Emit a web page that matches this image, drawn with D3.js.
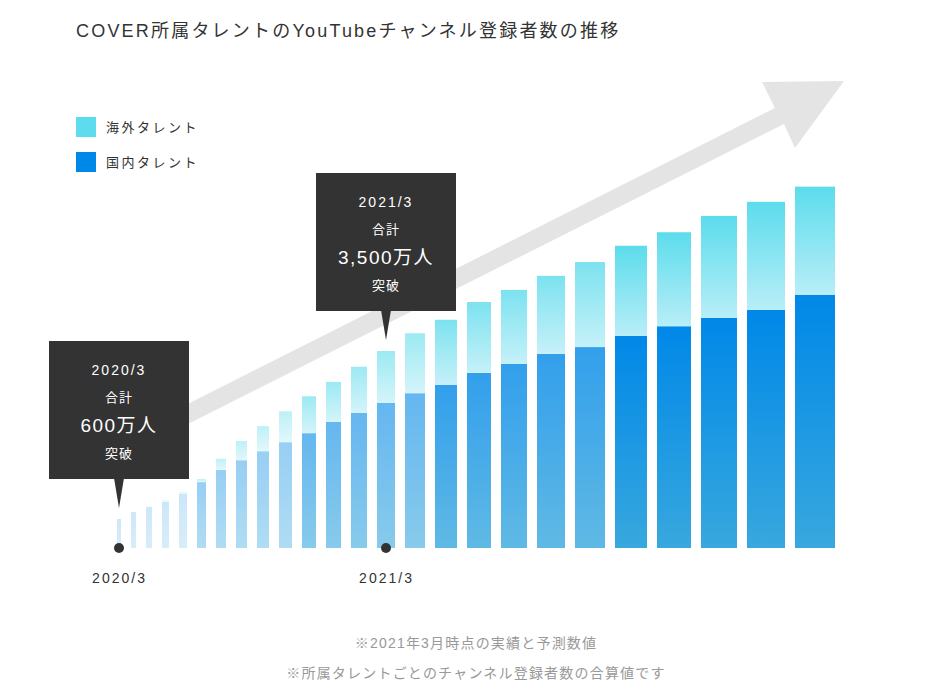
<!DOCTYPE html>
<html lang="ja">
<head>
<meta charset="utf-8">
<script src="https://cdn.jsdelivr.net/npm/d3@7/dist/d3.min.js"></script>
<style>
  html, body { margin: 0; padding: 0; background: #fff; }
  svg { display: block; }
  text { font-family: "Liberation Sans", "Noto Sans CJK JP", sans-serif; }
</style>
</head>
<body>
<svg id="chart" width="925" height="699"></svg>
<script>
// ---- data (万人) ----
const categories = d3.range(1, 26).map(i => "P" + i);
const domestic = [515, 640, 730, 820, 960, 1170, 1390, 1560, 1720, 1880, 2040, 2240, 2400, 2580, 2750, 2900, 3110, 3270, 3450, 3570, 3770, 3940, 4090, 4230, 4500];
const overseas = [0, 0, 0, 35, 35, 55, 195, 340, 445, 550, 655, 710, 820, 920, 1065, 1155, 1260, 1315, 1385, 1510, 1600, 1670, 1810, 1920, 1920];
const tickIndex = [0, 13];
const tickLabels = ["2020/3", "2021/3"];
const seriesNames = ["海外タレント", "国内タレント"];
const callouts = [
  { index: 0, lines: ["2020/3", "合計", "600万人", "突破"] },
  { index: 13, lines: ["2021/3", "合計", "3,500万人", "突破"] }
];
const title = "COVER所属タレントのYouTubeチャンネル登録者数の推移";
const notes = ["※2021年3月時点の実績と予測数値", "※所属タレントごとのチャンネル登録者数の合算値です"];

// ---- layout ----
const svg = d3.select("#chart");
const baseY = 548;
const gap = 10;
const barW = i => i < 13 ? 4 + i : 16 + 2 * (i - 12);
const starts = [];
let acc = 0;
categories.forEach((c, i) => { starts.push(acc); acc += barW(i) + (i < categories.length - 1 ? gap : 0); });
const x = d3.scaleLinear().domain([0, acc]).range([117, 835]);
const y = d3.scaleLinear().domain([0, 7000]).range([baseY, 154]);
const opac = i => [0.2, 0.4, 0.6, 0.8, 1][Math.floor(i / 5)];

// gradients
const defs = svg.append("defs");
const gDom = defs.append("linearGradient").attr("id", "gDom").attr("x1", 0).attr("y1", 0).attr("x2", 0).attr("y2", 1);
gDom.append("stop").attr("offset", 0).attr("stop-color", "#0088e8");
gDom.append("stop").attr("offset", 1).attr("stop-color", "#38a8de");
const gOv = defs.append("linearGradient").attr("id", "gOv").attr("x1", 0).attr("y1", 0).attr("x2", 0).attr("y2", 1);
gOv.append("stop").attr("offset", 0).attr("stop-color", "#5cdcec");
gOv.append("stop").attr("offset", 1).attr("stop-color", "#b8eef8");

// title
svg.append("text").attr("x", 76).attr("y", 37).attr("font-size", 18).attr("letter-spacing", 2.2)
  .attr("fill", "#333").text(title);

// legend
const legColors = ["#5cdcec", "#0088e8"];
seriesNames.forEach((n, k) => {
  const ly = 117 + k * 35;
  svg.append("rect").attr("x", 76).attr("y", ly).attr("width", 20).attr("height", 20).attr("fill", legColors[k]);
  svg.append("text").attr("x", 106).attr("y", ly + 10).attr("dy", "0.35em").attr("font-size", 13)
    .attr("letter-spacing", 2.5).attr("fill", "#333").text(n);
});

// background arrow
svg.append("path")
  .attr("d", "M150,423 L775,108 L762,82 L844,81 L795,148 L784,124 L150,443 Z")
  .attr("fill", "#e4e4e4");

// bars
const bars = svg.append("g");
categories.forEach((c, i) => {
  const bx = x(starts[i]);
  const bw = x(starts[i] + barW(i)) - bx;
  const g = bars.append("g").attr("opacity", opac(i));
  g.append("rect").attr("x", bx).attr("width", bw)
    .attr("y", y(domestic[i])).attr("height", y(0) - y(domestic[i])).attr("fill", "url(#gDom)");
  if (overseas[i] > 0) {
    g.append("rect").attr("x", bx).attr("width", bw)
      .attr("y", y(domestic[i] + overseas[i])).attr("height", y(domestic[i]) - y(domestic[i] + overseas[i]))
      .attr("fill", "url(#gOv)");
  }
});

const center = i => x(starts[i] + barW(i) / 2);

// axis labels
const axis = d3.axisBottom(x)
  .tickValues(tickIndex.map(i => starts[i] + barW(i) / 2))
  .tickFormat((d, k) => tickLabels[k])
  .tickSize(0).tickPadding(0);
const ax = svg.append("g").attr("transform", `translate(0,${baseY})`).call(axis);
ax.select(".domain").remove();
ax.selectAll("text").attr("y", 30).attr("dy", "0.35em").attr("font-size", 14)
  .attr("font-family", "Liberation Sans, Noto Sans CJK JP, sans-serif")
  .attr("letter-spacing", 2).attr("fill", "#333");

// dots
tickIndex.forEach(i => {
  svg.append("circle").attr("cx", center(i)).attr("cy", baseY).attr("r", 5).attr("fill", "#333");
});

// callouts
const boxTops = [341, 173];
callouts.forEach((co, k) => {
  const cx = center(co.index);
  const top = boxTops[k];
  const bw = 140, bh = 138;
  const g = svg.append("g");
  g.append("rect").attr("x", cx - 70).attr("y", top).attr("width", bw).attr("height", bh).attr("fill", "#333");
  g.append("path").attr("d", `M${cx - 5},${top + bh - 1} L${cx + 5},${top + bh - 1} L${cx},${top + bh + 29} Z`).attr("fill", "#333");
  const offs = [29, 56, 84, 112];
  const sizes = [14, 13, 19, 13];
  const ls = [2, 1, 1.5, 1];
  co.lines.forEach((t, j) => {
    g.append("text").attr("x", cx).attr("y", top + offs[j]).attr("dy", "0.35em")
      .attr("text-anchor", "middle").attr("font-size", sizes[j]).attr("letter-spacing", ls[j])
      .attr("fill", "#fff").text(t);
  });
});

// footnotes
notes.forEach((n, k) => {
  svg.append("text").attr("x", 476).attr("y", 643 + k * 30).attr("dy", "0.35em").attr("text-anchor", "middle")
    .attr("font-size", 14).attr("letter-spacing", 1.2).attr("fill", "#999").text(n);
});
</script>
</body>
</html>
